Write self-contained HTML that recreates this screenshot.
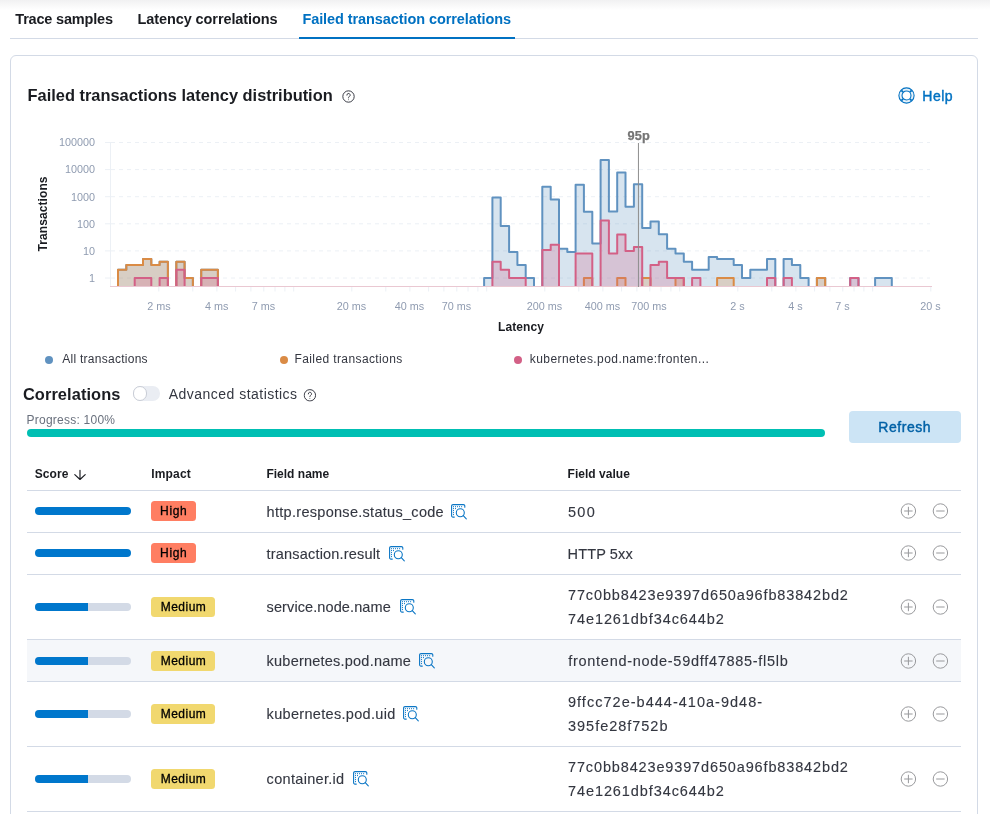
<!DOCTYPE html>
<html><head><meta charset="utf-8"><title>Failed transaction correlations</title>
<style>
*{box-sizing:border-box}
html,body{margin:0;padding:0}
body{width:990px;height:814px;overflow:hidden;background:#fff;position:relative;font-family:"Liberation Sans",sans-serif;color:#343741;-webkit-font-smoothing:antialiased}
.abs{position:absolute;white-space:nowrap}
.med{-webkit-text-stroke:.42px currentColor}
.topshadow{position:absolute;left:0;top:0;width:990px;height:10px;background:linear-gradient(#f1f1f2,#fff)}
.tab{position:absolute;font-size:14.5px;font-weight:bold;line-height:20px;white-space:nowrap;color:#1a1c21}
.tab.sel{color:#0071c2}
.tabline{position:absolute;left:10px;top:37.5px;width:968px;height:1px;background:#d3dae6}
.selline{position:absolute;left:298.5px;top:36.7px;width:216.5px;height:2px;background:#0071c2}
.panel{position:absolute;left:10px;top:54.5px;width:968px;height:800px;border:1px solid #d3dae6;border-radius:6px}
.chart{position:absolute;left:0;top:0}
.h1{font-size:16px;font-weight:bold;color:#1a1c21;line-height:20px}
.leg{font-size:12px;line-height:16px;color:#343741}
.dot{position:absolute;width:8px;height:8px;border-radius:50%}
.row{position:absolute;left:27px;width:934px;border-bottom:1px solid #d3dae6}
.row.hl{background:#f5f7fa}
.row>div{position:absolute;top:50%;transform:translateY(-50%)}
.bar{left:8px;width:96px;height:8px;border-radius:4px;background:#d3dae6;overflow:hidden}
.fill{height:8px;background:#0077cc}
.c2{left:124px}
.badge{display:inline-block;height:20px;line-height:20px;border-radius:3.5px;font-size:12px;color:#000;-webkit-text-stroke:.3px #000;white-space:nowrap}
.badge.high{background:#ff7e62;width:44.5px}
.badge.medium{background:#f1d86f;width:64px}
.c3{left:240px;margin-top:.4px;font-size:14.5px;line-height:24px;-webkit-text-stroke:.12px #343741;white-space:nowrap;display:flex;align-items:center}
.c3 .insp{display:block}
.c4{left:541px;margin-top:.4px;font-size:14.5px;line-height:24px;-webkit-text-stroke:.12px #343741;white-space:nowrap}
.c4 span{position:relative}
.pl{left:873px;height:16px}
.mi{left:905px;height:16px}
.ic{display:block}
.th{position:absolute;font-size:12px;font-weight:bold;line-height:16px;color:#1a1c21;white-space:nowrap}
</style></head><body>
<div class="topshadow"></div>
<div class="tab" style="left:15.30px;top:9px;letter-spacing:-0.19px;">Trace samples</div>
<div class="tab" style="left:137.60px;top:9px;letter-spacing:-0.10px;">Latency correlations</div>
<div class="tab sel" style="left:302.40px;top:9px;letter-spacing:-0.08px;">Failed transaction correlations</div>
<div class="tabline"></div><div class="selline"></div><div class="panel"></div>
<div class="abs h1" style="left:27.60px;top:85px;letter-spacing:0.00px;font-size:16.4px">Failed transactions latency distribution</div>
<div class="abs" style="left:342px;top:89px;height:13px"><svg width="13" height="13" viewBox="0 0 16 16" fill="none" stroke="#343741" stroke-width="1.2"><circle cx="8" cy="8" r="7"/><path d="M6 6.3a2 2 0 1 1 3 1.7c-.7.4-1 .8-1 1.7" stroke-linecap="round"/><circle cx="8" cy="11.9" r=".6" fill="#343741" stroke="none"/></svg></div>
<div class="abs" style="left:897.5px;top:87px;height:17px"><svg width="17" height="17" viewBox="0 0 17 17" fill="none" stroke="#0071c2"><circle cx="8.5" cy="8.5" r="7.6" stroke-width="1.1"/><circle cx="8.5" cy="8.5" r="4.5" stroke-width="1.1"/><path d="M3.3 3.3l1.9 1.9M13.7 3.3l-1.9 1.9M3.3 13.7l1.9-1.9M13.7 13.7l-1.9-1.9" stroke-width="1.7"/><circle cx="8.5" cy="8.5" r="6.05" stroke-width="2" stroke-opacity=".1"/></svg></div>
<div class="abs med" style="left:922.30px;top:86px;letter-spacing:0.51px;font-size:14px;line-height:20px;color:#0071c2">Help</div>
<svg class="chart" width="990" height="345" viewBox="0 0 990 345">
<style>.ax{font:10.8px "Liberation Sans",sans-serif;fill:#8f9bb0}.axt{font:bold 12px "Liberation Sans",sans-serif;fill:#1a1c21}</style>
<defs><clipPath id="cp"><rect x="109" y="140" width="824" height="147"/></clipPath></defs>
<line x1="105" x2="111" y1="142.5" y2="142.5" stroke="#ecf0f5" stroke-width="1"/>
<line x1="111" x2="930" y1="142.5" y2="142.5" stroke="#ecf0f5" stroke-width="1" stroke-dasharray="4 4"/>
<line x1="105" x2="111" y1="169.6" y2="169.6" stroke="#ecf0f5" stroke-width="1"/>
<line x1="111" x2="930" y1="169.6" y2="169.6" stroke="#ecf0f5" stroke-width="1" stroke-dasharray="4 4"/>
<line x1="105" x2="111" y1="196.7" y2="196.7" stroke="#ecf0f5" stroke-width="1"/>
<line x1="111" x2="930" y1="196.7" y2="196.7" stroke="#ecf0f5" stroke-width="1" stroke-dasharray="4 4"/>
<line x1="105" x2="111" y1="223.8" y2="223.8" stroke="#ecf0f5" stroke-width="1"/>
<line x1="111" x2="930" y1="223.8" y2="223.8" stroke="#ecf0f5" stroke-width="1" stroke-dasharray="4 4"/>
<line x1="105" x2="111" y1="250.9" y2="250.9" stroke="#ecf0f5" stroke-width="1"/>
<line x1="111" x2="930" y1="250.9" y2="250.9" stroke="#ecf0f5" stroke-width="1" stroke-dasharray="4 4"/>
<line x1="105" x2="111" y1="278.0" y2="278.0" stroke="#ecf0f5" stroke-width="1"/>
<line x1="111" x2="930" y1="278.0" y2="278.0" stroke="#ecf0f5" stroke-width="1" stroke-dasharray="4 4"/>
<line x1="110.5" x2="110.5" y1="142" y2="287" stroke="#ecf0f5" stroke-width="1"/>
<g clip-path="url(#cp)">
<path d="M118.0,286.5V269.8H126.3V265.1H143.0V259.1H151.3V265.1H159.6V261.7H167.9V286.5ZM176.3,286.5V261.7H184.6V278.0H192.9V286.5ZM201.2,286.5V269.8H217.9V286.5ZM484.1,286.5V278.0H492.4V197.5H500.7V226.0H509.1V252.1H517.4V265.1H525.7V278.0H534.0V286.5ZM542.3,286.5V186.7H550.7V199.5H559.0V248.8H567.3V252.1H575.6V184.8H583.9V211.7H592.3V243.6H600.6V160.0H608.9V211.4H617.2V172.4H625.5V206.8H633.9V184.2H642.2V228.0H650.5V221.6H658.8V234.3H667.1V248.8H675.5V253.5H683.8V261.7H692.1V269.8H708.7V256.9H717.1V259.1H733.7V265.1H742.0V278.0H750.3V269.8H767.0V259.1H775.3V286.5ZM783.6,286.5V259.1H791.9V265.1H800.3V278.0H808.6V286.5ZM816.9,286.5V278.0H825.2V286.5ZM850.2,286.5V278.0H858.5V286.5ZM875.1,286.5V278.0H891.8V286.5Z" fill="#6092c0" fill-opacity="0.25" stroke="none"/>
<path d="M118.0,286.5V269.8H126.3V265.1H143.0V259.1H151.3V265.1H159.6V261.7H167.9V286.5M176.3,286.5V261.7H184.6V278.0H192.9V286.5M201.2,286.5V269.8H217.9V286.5M484.1,286.5V278.0H492.4V197.5H500.7V226.0H509.1V252.1H517.4V265.1H525.7V278.0H534.0V286.5M542.3,286.5V186.7H550.7V199.5H559.0V248.8H567.3V252.1H575.6V184.8H583.9V211.7H592.3V243.6H600.6V160.0H608.9V211.4H617.2V172.4H625.5V206.8H633.9V184.2H642.2V228.0H650.5V221.6H658.8V234.3H667.1V248.8H675.5V253.5H683.8V261.7H692.1V269.8H708.7V256.9H717.1V259.1H733.7V265.1H742.0V278.0H750.3V269.8H767.0V259.1H775.3V286.5M783.6,286.5V259.1H791.9V265.1H800.3V278.0H808.6V286.5M816.9,286.5V278.0H825.2V286.5M850.2,286.5V278.0H858.5V286.5M875.1,286.5V278.0H891.8V286.5" fill="none" stroke="#6092c0" stroke-width="2" stroke-linejoin="round"/>
<path d="M118.0,286.5V269.8H126.3V265.1H143.0V259.1H151.3V265.1H159.6V261.7H167.9V286.5ZM176.3,286.5V261.7H184.6V278.0H192.9V286.5ZM201.2,286.5V269.8H217.9V286.5ZM583.9,286.5V278.0H592.3V286.5ZM617.2,286.5V278.0H625.5V286.5ZM642.2,286.5V278.0H650.5V286.5ZM675.5,286.5V278.0H683.8V286.5ZM717.1,286.5V278.0H733.7V286.5ZM816.9,286.5V278.0H825.2V286.5Z" fill="#da8b45" fill-opacity="0.25" stroke="none"/>
<path d="M118.0,286.5V269.8H126.3V265.1H143.0V259.1H151.3V265.1H159.6V261.7H167.9V286.5M176.3,286.5V261.7H184.6V278.0H192.9V286.5M201.2,286.5V269.8H217.9V286.5M583.9,286.5V278.0H592.3V286.5M617.2,286.5V278.0H625.5V286.5M642.2,286.5V278.0H650.5V286.5M675.5,286.5V278.0H683.8V286.5M717.1,286.5V278.0H733.7V286.5M816.9,286.5V278.0H825.2V286.5" fill="none" stroke="#da8b45" stroke-width="2" stroke-linejoin="round"/>
<path d="M134.7,286.5V278.0H151.3V286.5ZM159.6,286.5V278.0H167.9V286.5ZM176.3,286.5V269.8H184.6V286.5ZM201.2,286.5V278.0H217.9V286.5ZM492.4,286.5V261.7H500.7V269.8H509.1V278.0H525.7V286.5ZM542.3,286.5V250.1H550.7V244.7H559.0V286.5ZM575.6,286.5V253.5H592.3V286.5ZM600.6,286.5V220.5H608.9V253.5H617.2V234.6H625.5V250.9H633.9V246.9H642.2V286.5ZM650.5,286.5V265.1H658.8V261.7H667.1V278.0H683.8V286.5ZM692.1,286.5V278.0H700.4V286.5ZM767.0,286.5V278.0H775.3V286.5ZM783.6,286.5V278.0H791.9V286.5ZM850.2,286.5V278.0H858.5V286.5Z" fill="#d36086" fill-opacity="0.25" stroke="none"/>
<path d="M134.7,286.5V278.0H151.3V286.5M159.6,286.5V278.0H167.9V286.5M176.3,286.5V269.8H184.6V286.5M201.2,286.5V278.0H217.9V286.5M492.4,286.5V261.7H500.7V269.8H509.1V278.0H525.7V286.5M542.3,286.5V250.1H550.7V244.7H559.0V286.5M575.6,286.5V253.5H592.3V286.5M600.6,286.5V220.5H608.9V253.5H617.2V234.6H625.5V250.9H633.9V246.9H642.2V286.5M650.5,286.5V265.1H658.8V261.7H667.1V278.0H683.8V286.5M692.1,286.5V278.0H700.4V286.5M767.0,286.5V278.0H775.3V286.5M783.6,286.5V278.0H791.9V286.5M850.2,286.5V278.0H858.5V286.5" fill="none" stroke="#d36086" stroke-width="2" stroke-linejoin="round"/>
<line x1="110" x2="932" y1="286.5" y2="286.5" stroke="#eac8d2" stroke-width="1"/>
</g>
<line x1="638.45" x2="638.45" y1="143" y2="287" stroke="#8e8e8e" stroke-width="1"/>
<text x="638.8" y="139.8" text-anchor="middle" style="font:bold 12.8px 'Liberation Sans',sans-serif;fill:#757575;stroke:#757575;stroke-width:.25px;letter-spacing:.25px">95p</text>
<line x1="158.8" x2="158.8" y1="287" y2="291.5" stroke="#ecf0f5" stroke-width="1"/>
<line x1="192.8" x2="192.8" y1="287" y2="291.5" stroke="#ecf0f5" stroke-width="1"/>
<line x1="216.9" x2="216.9" y1="287" y2="291.5" stroke="#ecf0f5" stroke-width="1"/>
<line x1="235.6" x2="235.6" y1="287" y2="291.5" stroke="#ecf0f5" stroke-width="1"/>
<line x1="250.9" x2="250.9" y1="287" y2="291.5" stroke="#ecf0f5" stroke-width="1"/>
<line x1="263.8" x2="263.8" y1="287" y2="291.5" stroke="#ecf0f5" stroke-width="1"/>
<line x1="275.0" x2="275.0" y1="287" y2="291.5" stroke="#ecf0f5" stroke-width="1"/>
<line x1="284.9" x2="284.9" y1="287" y2="291.5" stroke="#ecf0f5" stroke-width="1"/>
<line x1="293.7" x2="293.7" y1="287" y2="291.5" stroke="#ecf0f5" stroke-width="1"/>
<line x1="351.8" x2="351.8" y1="287" y2="291.5" stroke="#ecf0f5" stroke-width="1"/>
<line x1="385.8" x2="385.8" y1="287" y2="291.5" stroke="#ecf0f5" stroke-width="1"/>
<line x1="409.9" x2="409.9" y1="287" y2="291.5" stroke="#ecf0f5" stroke-width="1"/>
<line x1="428.6" x2="428.6" y1="287" y2="291.5" stroke="#ecf0f5" stroke-width="1"/>
<line x1="443.9" x2="443.9" y1="287" y2="291.5" stroke="#ecf0f5" stroke-width="1"/>
<line x1="456.8" x2="456.8" y1="287" y2="291.5" stroke="#ecf0f5" stroke-width="1"/>
<line x1="468.0" x2="468.0" y1="287" y2="291.5" stroke="#ecf0f5" stroke-width="1"/>
<line x1="477.9" x2="477.9" y1="287" y2="291.5" stroke="#ecf0f5" stroke-width="1"/>
<line x1="486.7" x2="486.7" y1="287" y2="291.5" stroke="#ecf0f5" stroke-width="1"/>
<line x1="544.8" x2="544.8" y1="287" y2="291.5" stroke="#ecf0f5" stroke-width="1"/>
<line x1="578.8" x2="578.8" y1="287" y2="291.5" stroke="#ecf0f5" stroke-width="1"/>
<line x1="602.9" x2="602.9" y1="287" y2="291.5" stroke="#ecf0f5" stroke-width="1"/>
<line x1="621.6" x2="621.6" y1="287" y2="291.5" stroke="#ecf0f5" stroke-width="1"/>
<line x1="636.9" x2="636.9" y1="287" y2="291.5" stroke="#ecf0f5" stroke-width="1"/>
<line x1="649.8" x2="649.8" y1="287" y2="291.5" stroke="#ecf0f5" stroke-width="1"/>
<line x1="661.0" x2="661.0" y1="287" y2="291.5" stroke="#ecf0f5" stroke-width="1"/>
<line x1="670.9" x2="670.9" y1="287" y2="291.5" stroke="#ecf0f5" stroke-width="1"/>
<line x1="679.7" x2="679.7" y1="287" y2="291.5" stroke="#ecf0f5" stroke-width="1"/>
<line x1="737.8" x2="737.8" y1="287" y2="291.5" stroke="#ecf0f5" stroke-width="1"/>
<line x1="771.8" x2="771.8" y1="287" y2="291.5" stroke="#ecf0f5" stroke-width="1"/>
<line x1="795.9" x2="795.9" y1="287" y2="291.5" stroke="#ecf0f5" stroke-width="1"/>
<line x1="814.6" x2="814.6" y1="287" y2="291.5" stroke="#ecf0f5" stroke-width="1"/>
<line x1="829.9" x2="829.9" y1="287" y2="291.5" stroke="#ecf0f5" stroke-width="1"/>
<line x1="842.8" x2="842.8" y1="287" y2="291.5" stroke="#ecf0f5" stroke-width="1"/>
<line x1="854.0" x2="854.0" y1="287" y2="291.5" stroke="#ecf0f5" stroke-width="1"/>
<line x1="863.9" x2="863.9" y1="287" y2="291.5" stroke="#ecf0f5" stroke-width="1"/>
<line x1="872.7" x2="872.7" y1="287" y2="291.5" stroke="#ecf0f5" stroke-width="1"/>
<line x1="930.8" x2="930.8" y1="287" y2="291.5" stroke="#ecf0f5" stroke-width="1"/>
<text x="95" y="146.3" text-anchor="end" class="ax">100000</text>
<text x="95" y="173.4" text-anchor="end" class="ax">10000</text>
<text x="95" y="200.5" text-anchor="end" class="ax">1000</text>
<text x="95" y="227.6" text-anchor="end" class="ax">100</text>
<text x="95" y="254.7" text-anchor="end" class="ax">10</text>
<text x="95" y="281.8" text-anchor="end" class="ax">1</text>
<text x="159.0" y="309.8" text-anchor="middle" class="ax">2 ms</text>
<text x="216.8" y="309.8" text-anchor="middle" class="ax">4 ms</text>
<text x="263.4" y="309.8" text-anchor="middle" class="ax">7 ms</text>
<text x="351.5" y="309.8" text-anchor="middle" class="ax">20 ms</text>
<text x="409.5" y="309.8" text-anchor="middle" class="ax">40 ms</text>
<text x="456.5" y="309.8" text-anchor="middle" class="ax">70 ms</text>
<text x="544.5" y="309.8" text-anchor="middle" class="ax">200 ms</text>
<text x="602.5" y="309.8" text-anchor="middle" class="ax">400 ms</text>
<text x="649.0" y="309.8" text-anchor="middle" class="ax">700 ms</text>
<text x="737.5" y="309.8" text-anchor="middle" class="ax">2 s</text>
<text x="795.5" y="309.8" text-anchor="middle" class="ax">4 s</text>
<text x="842.5" y="309.8" text-anchor="middle" class="ax">7 s</text>
<text x="930.5" y="309.8" text-anchor="middle" class="ax">20 s</text>
<text x="521" y="331" text-anchor="middle" class="axt" style="letter-spacing:.1px">Latency</text>
<text transform="translate(47,214) rotate(-90)" text-anchor="middle" class="axt" style="letter-spacing:.1px">Transactions</text>
</svg>
<div class="dot" style="left:45px;top:356px;background:#6092c0"></div>
<div class="abs leg" style="left:62.20px;top:351px;letter-spacing:0.27px;">All transactions</div>
<div class="dot" style="left:279.5px;top:356px;background:#da8b45"></div>
<div class="abs leg" style="left:294.50px;top:351px;letter-spacing:0.39px;">Failed transactions</div>
<div class="dot" style="left:514px;top:356px;background:#d36086"></div>
<div class="abs leg" style="left:529.80px;top:351px;letter-spacing:0.42px;">kubernetes.pod.name:fronten...</div>
<div class="abs h1" style="left:22.90px;top:384px;letter-spacing:0.09px;font-size:16.4px">Correlations</div>
<div class="abs" style="left:132.5px;top:386px;width:27.5px;height:14.5px;border-radius:7.25px;background:#eaedf3"><div style="position:absolute;left:0;top:0;width:14.5px;height:14.5px;border-radius:50%;background:#fff;border:1px solid #c9cdd6"></div></div>
<div class="abs" style="left:168.80px;top:384px;letter-spacing:0.47px;font-size:14px;line-height:20px">Advanced statistics</div>
<div class="abs" style="left:303px;top:387px;height:13px;transform:translate(.4px,.8px)"><svg width="13" height="13" viewBox="0 0 16 16" fill="none" stroke="#343741" stroke-width="1.2"><circle cx="8" cy="8" r="7"/><path d="M6 6.3a2 2 0 1 1 3 1.7c-.7.4-1 .8-1 1.7" stroke-linecap="round"/><circle cx="8" cy="11.9" r=".6" fill="#343741" stroke="none"/></svg></div>
<div class="abs" style="left:26.60px;top:412px;letter-spacing:0.23px;font-size:12px;line-height:16px;color:#69707d">Progress: 100%</div>
<div class="abs" style="left:27px;top:429px;width:798px;height:8px;border-radius:4px;background:#00bfb3"></div>
<div class="abs" style="left:849px;top:411px;width:112px;height:31.5px;border-radius:4px;background:#cce4f5"></div>
<div class="abs med" style="left:878.30px;top:416.5px;letter-spacing:0.55px;color:#0061a6;font-size:14px;line-height:20px">Refresh</div>
<div class="th" style="left:34.80px;top:466px;letter-spacing:0.05px;">Score</div>
<div class="abs" style="left:74.4px;top:466.8px;height:12px"><svg width="12" height="12" viewBox="0 0 12 12" fill="none" stroke="#1a1c21" stroke-width="1.15" stroke-linecap="round" stroke-linejoin="round"><path d="M6 1.2v9.2M.8 5.6L6 10.5l5.2-4.9"/></svg></div>
<div class="th" style="left:151.20px;top:466px;letter-spacing:0.18px;">Impact</div>
<div class="th" style="left:266.40px;top:466px;letter-spacing:0.01px;">Field name</div>
<div class="th" style="left:567.60px;top:466px;letter-spacing:0.02px;">Field value</div>
<div class="abs" style="left:27px;top:490px;width:934px;height:1px;background:#d3dae6"></div>
<div class="row" style="top:491px;height:42px"><div class="bar" style="margin-top:-0.5px"><div class="fill" style="width:100%"></div></div><div class="c2" style="margin-top:-0.5px"><span class="badge high" style="padding-left:9.10px;letter-spacing:0.62px">High</span></div><div class="c3" style="margin-left:-0.40px"><span class="fn" style="letter-spacing:0.29px">http.response.status_code</span><span style="position:absolute;left:184.4px;top:4px;height:16px"><svg class="insp" width="16" height="16" viewBox="0 0 16 16"><g fill="none" stroke="#0b76c5" stroke-width="1.1" stroke-linecap="round"><path d="M3.3 13.1H2a1.4 1.4 0 0 1-1.4-1.4V2A1.4 1.4 0 0 1 2 .6h10.4A1.4 1.4 0 0 1 13.8 2v1.3"/><circle cx="9.3" cy="8.7" r="4"/><path d="M12.3 11.7l3 3.1"/></g><g fill="#0b76c5"><rect x="2.0" y="2.2" width="1" height="1"/><rect x="4.0" y="2.2" width="1" height="1"/><rect x="6.0" y="2.2" width="1" height="1"/><rect x="8.0" y="2.2" width="1" height="1"/><rect x="10.1" y="2.2" width="1" height="1"/><rect x="2.0" y="4.1" width="1" height="1"/><rect x="4.0" y="4.1" width="1" height="1"/><rect x="2.0" y="6.1" width="1" height="1"/><rect x="2.0" y="8.1" width="1" height="1"/><rect x="2.0" y="10.1" width="1" height="1"/></g></svg></span></div><div class="c4"><span style="letter-spacing:1.30px;left:0.00px">500</span></div><div class="pl" style="margin-top:-0.5px"><svg class="ic" width="16" height="16" viewBox="0 0 16 16" fill="none" stroke="#98999c" stroke-width="1"><circle cx="8.4" cy="8" r="7.2"/><path d="M8.4 3.8v8.4M4.2 8h8.4"/></svg></div><div class="mi" style="margin-top:-0.5px"><svg class="ic" width="16" height="16" viewBox="0 0 16 16" fill="none" stroke="#98999c" stroke-width="1"><circle cx="8.4" cy="8" r="7.2"/><path d="M4.2 8h8.4"/></svg></div></div>
<div class="row" style="top:533px;height:42px"><div class="bar" style="margin-top:-0.5px"><div class="fill" style="width:100%"></div></div><div class="c2" style="margin-top:-0.5px"><span class="badge high" style="padding-left:9.10px;letter-spacing:0.62px">High</span></div><div class="c3" style="margin-left:-0.40px"><span class="fn" style="letter-spacing:0.18px">transaction.result</span><span style="position:absolute;left:122.7px;top:4px;height:16px"><svg class="insp" width="16" height="16" viewBox="0 0 16 16"><g fill="none" stroke="#0b76c5" stroke-width="1.1" stroke-linecap="round"><path d="M3.3 13.1H2a1.4 1.4 0 0 1-1.4-1.4V2A1.4 1.4 0 0 1 2 .6h10.4A1.4 1.4 0 0 1 13.8 2v1.3"/><circle cx="9.3" cy="8.7" r="4"/><path d="M12.3 11.7l3 3.1"/></g><g fill="#0b76c5"><rect x="2.0" y="2.2" width="1" height="1"/><rect x="4.0" y="2.2" width="1" height="1"/><rect x="6.0" y="2.2" width="1" height="1"/><rect x="8.0" y="2.2" width="1" height="1"/><rect x="10.1" y="2.2" width="1" height="1"/><rect x="2.0" y="4.1" width="1" height="1"/><rect x="4.0" y="4.1" width="1" height="1"/><rect x="2.0" y="6.1" width="1" height="1"/><rect x="2.0" y="8.1" width="1" height="1"/><rect x="2.0" y="10.1" width="1" height="1"/></g></svg></span></div><div class="c4"><span style="letter-spacing:0.12px;left:-0.40px">HTTP 5xx</span></div><div class="pl" style="margin-top:-0.5px"><svg class="ic" width="16" height="16" viewBox="0 0 16 16" fill="none" stroke="#98999c" stroke-width="1"><circle cx="8.4" cy="8" r="7.2"/><path d="M8.4 3.8v8.4M4.2 8h8.4"/></svg></div><div class="mi" style="margin-top:-0.5px"><svg class="ic" width="16" height="16" viewBox="0 0 16 16" fill="none" stroke="#98999c" stroke-width="1"><circle cx="8.4" cy="8" r="7.2"/><path d="M4.2 8h8.4"/></svg></div></div>
<div class="row" style="top:575px;height:65px"><div class="bar" style="margin-top:0px"><div class="fill" style="width:53px"></div></div><div class="c2" style="margin-top:0px"><span class="badge medium" style="padding-left:9.70px;letter-spacing:0.50px">Medium</span></div><div class="c3" style="margin-left:-0.40px"><span class="fn" style="letter-spacing:0.10px">service.node.name</span><span style="position:absolute;left:133.0px;top:4px;height:16px"><svg class="insp" width="16" height="16" viewBox="0 0 16 16"><g fill="none" stroke="#0b76c5" stroke-width="1.1" stroke-linecap="round"><path d="M3.3 13.1H2a1.4 1.4 0 0 1-1.4-1.4V2A1.4 1.4 0 0 1 2 .6h10.4A1.4 1.4 0 0 1 13.8 2v1.3"/><circle cx="9.3" cy="8.7" r="4"/><path d="M12.3 11.7l3 3.1"/></g><g fill="#0b76c5"><rect x="2.0" y="2.2" width="1" height="1"/><rect x="4.0" y="2.2" width="1" height="1"/><rect x="6.0" y="2.2" width="1" height="1"/><rect x="8.0" y="2.2" width="1" height="1"/><rect x="10.1" y="2.2" width="1" height="1"/><rect x="2.0" y="4.1" width="1" height="1"/><rect x="4.0" y="4.1" width="1" height="1"/><rect x="2.0" y="6.1" width="1" height="1"/><rect x="2.0" y="8.1" width="1" height="1"/><rect x="2.0" y="10.1" width="1" height="1"/></g></svg></span></div><div class="c4"><span style="letter-spacing:0.86px;left:0.00px">77c0bb8423e9397d650a96fb83842bd2</span><br><span style="letter-spacing:0.91px;left:0.00px">74e1261dbf34c644b2</span></div><div class="pl" style="margin-top:0px"><svg class="ic" width="16" height="16" viewBox="0 0 16 16" fill="none" stroke="#98999c" stroke-width="1"><circle cx="8.4" cy="8" r="7.2"/><path d="M8.4 3.8v8.4M4.2 8h8.4"/></svg></div><div class="mi" style="margin-top:0px"><svg class="ic" width="16" height="16" viewBox="0 0 16 16" fill="none" stroke="#98999c" stroke-width="1"><circle cx="8.4" cy="8" r="7.2"/><path d="M4.2 8h8.4"/></svg></div></div>
<div class="row hl" style="top:640px;height:42px"><div class="bar" style="margin-top:0.5px"><div class="fill" style="width:53px"></div></div><div class="c2" style="margin-top:0.5px"><span class="badge medium" style="padding-left:9.70px;letter-spacing:0.50px">Medium</span></div><div class="c3" style="margin-left:-0.40px"><span class="fn" style="letter-spacing:0.22px">kubernetes.pod.name</span><span style="position:absolute;left:152.4px;top:4px;height:16px"><svg class="insp" width="16" height="16" viewBox="0 0 16 16"><g fill="none" stroke="#0b76c5" stroke-width="1.1" stroke-linecap="round"><path d="M3.3 13.1H2a1.4 1.4 0 0 1-1.4-1.4V2A1.4 1.4 0 0 1 2 .6h10.4A1.4 1.4 0 0 1 13.8 2v1.3"/><circle cx="9.3" cy="8.7" r="4"/><path d="M12.3 11.7l3 3.1"/></g><g fill="#0b76c5"><rect x="2.0" y="2.2" width="1" height="1"/><rect x="4.0" y="2.2" width="1" height="1"/><rect x="6.0" y="2.2" width="1" height="1"/><rect x="8.0" y="2.2" width="1" height="1"/><rect x="10.1" y="2.2" width="1" height="1"/><rect x="2.0" y="4.1" width="1" height="1"/><rect x="4.0" y="4.1" width="1" height="1"/><rect x="2.0" y="6.1" width="1" height="1"/><rect x="2.0" y="8.1" width="1" height="1"/><rect x="2.0" y="10.1" width="1" height="1"/></g></svg></span></div><div class="c4"><span style="letter-spacing:0.71px;left:0.30px">frontend-node-59dff47885-fl5lb</span></div><div class="pl" style="margin-top:0.5px"><svg class="ic" width="16" height="16" viewBox="0 0 16 16" fill="none" stroke="#98999c" stroke-width="1"><circle cx="8.4" cy="8" r="7.2"/><path d="M8.4 3.8v8.4M4.2 8h8.4"/></svg></div><div class="mi" style="margin-top:0.5px"><svg class="ic" width="16" height="16" viewBox="0 0 16 16" fill="none" stroke="#98999c" stroke-width="1"><circle cx="8.4" cy="8" r="7.2"/><path d="M4.2 8h8.4"/></svg></div></div>
<div class="row" style="top:682px;height:65px"><div class="bar" style="margin-top:0px"><div class="fill" style="width:53px"></div></div><div class="c2" style="margin-top:0px"><span class="badge medium" style="padding-left:9.70px;letter-spacing:0.50px">Medium</span></div><div class="c3" style="margin-left:-0.40px"><span class="fn" style="letter-spacing:0.31px">kubernetes.pod.uid</span><span style="position:absolute;left:136.2px;top:4px;height:16px"><svg class="insp" width="16" height="16" viewBox="0 0 16 16"><g fill="none" stroke="#0b76c5" stroke-width="1.1" stroke-linecap="round"><path d="M3.3 13.1H2a1.4 1.4 0 0 1-1.4-1.4V2A1.4 1.4 0 0 1 2 .6h10.4A1.4 1.4 0 0 1 13.8 2v1.3"/><circle cx="9.3" cy="8.7" r="4"/><path d="M12.3 11.7l3 3.1"/></g><g fill="#0b76c5"><rect x="2.0" y="2.2" width="1" height="1"/><rect x="4.0" y="2.2" width="1" height="1"/><rect x="6.0" y="2.2" width="1" height="1"/><rect x="8.0" y="2.2" width="1" height="1"/><rect x="10.1" y="2.2" width="1" height="1"/><rect x="2.0" y="4.1" width="1" height="1"/><rect x="4.0" y="4.1" width="1" height="1"/><rect x="2.0" y="6.1" width="1" height="1"/><rect x="2.0" y="8.1" width="1" height="1"/><rect x="2.0" y="10.1" width="1" height="1"/></g></svg></span></div><div class="c4"><span style="letter-spacing:1.02px;left:0.00px">9ffcc72e-b444-410a-9d48-</span><br><span style="letter-spacing:0.98px;left:0.00px">395fe28f752b</span></div><div class="pl" style="margin-top:0px"><svg class="ic" width="16" height="16" viewBox="0 0 16 16" fill="none" stroke="#98999c" stroke-width="1"><circle cx="8.4" cy="8" r="7.2"/><path d="M8.4 3.8v8.4M4.2 8h8.4"/></svg></div><div class="mi" style="margin-top:0px"><svg class="ic" width="16" height="16" viewBox="0 0 16 16" fill="none" stroke="#98999c" stroke-width="1"><circle cx="8.4" cy="8" r="7.2"/><path d="M4.2 8h8.4"/></svg></div></div>
<div class="row" style="top:747px;height:65px"><div class="bar" style="margin-top:0px"><div class="fill" style="width:53px"></div></div><div class="c2" style="margin-top:0px"><span class="badge medium" style="padding-left:9.70px;letter-spacing:0.50px">Medium</span></div><div class="c3" style="margin-left:-0.40px"><span class="fn" style="letter-spacing:0.31px">container.id</span><span style="position:absolute;left:85.9px;top:4px;height:16px"><svg class="insp" width="16" height="16" viewBox="0 0 16 16"><g fill="none" stroke="#0b76c5" stroke-width="1.1" stroke-linecap="round"><path d="M3.3 13.1H2a1.4 1.4 0 0 1-1.4-1.4V2A1.4 1.4 0 0 1 2 .6h10.4A1.4 1.4 0 0 1 13.8 2v1.3"/><circle cx="9.3" cy="8.7" r="4"/><path d="M12.3 11.7l3 3.1"/></g><g fill="#0b76c5"><rect x="2.0" y="2.2" width="1" height="1"/><rect x="4.0" y="2.2" width="1" height="1"/><rect x="6.0" y="2.2" width="1" height="1"/><rect x="8.0" y="2.2" width="1" height="1"/><rect x="10.1" y="2.2" width="1" height="1"/><rect x="2.0" y="4.1" width="1" height="1"/><rect x="4.0" y="4.1" width="1" height="1"/><rect x="2.0" y="6.1" width="1" height="1"/><rect x="2.0" y="8.1" width="1" height="1"/><rect x="2.0" y="10.1" width="1" height="1"/></g></svg></span></div><div class="c4"><span style="letter-spacing:0.86px;left:0.00px">77c0bb8423e9397d650a96fb83842bd2</span><br><span style="letter-spacing:0.91px;left:0.00px">74e1261dbf34c644b2</span></div><div class="pl" style="margin-top:0px"><svg class="ic" width="16" height="16" viewBox="0 0 16 16" fill="none" stroke="#98999c" stroke-width="1"><circle cx="8.4" cy="8" r="7.2"/><path d="M8.4 3.8v8.4M4.2 8h8.4"/></svg></div><div class="mi" style="margin-top:0px"><svg class="ic" width="16" height="16" viewBox="0 0 16 16" fill="none" stroke="#98999c" stroke-width="1"><circle cx="8.4" cy="8" r="7.2"/><path d="M4.2 8h8.4"/></svg></div></div>
</body></html>
